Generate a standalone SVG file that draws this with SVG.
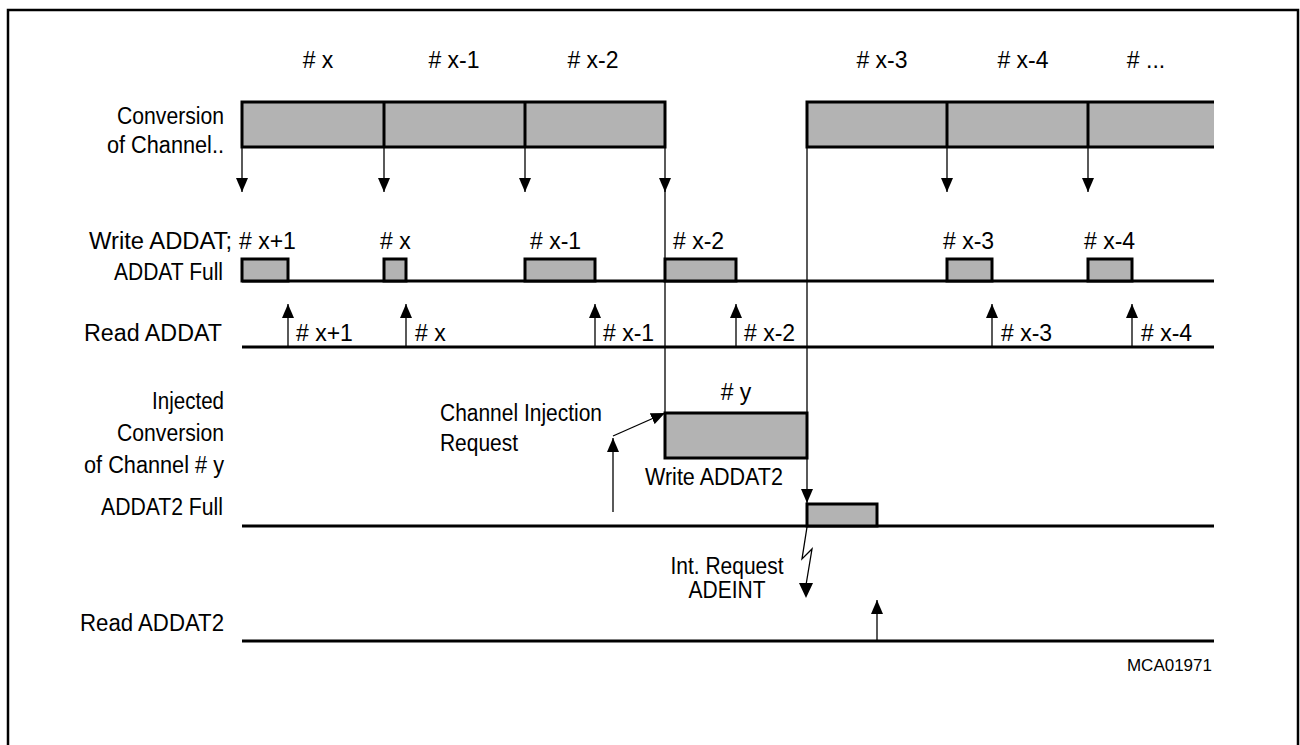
<svg xmlns="http://www.w3.org/2000/svg" width="1300" height="745" viewBox="0 0 1300 745">
<style>
text{font-family:"Liberation Sans",Arial,sans-serif;font-size:23px;fill:#000}
.r{text-anchor:end}
.m{text-anchor:middle}
.sig{stroke:#000;stroke-width:3;fill:none}
.box{stroke:#000;stroke-width:3;fill:#b3b3b3}
.thin{stroke:#000;stroke-width:1.3;fill:none}
.head{fill:#000;stroke:none}
</style>
<defs>
<marker id="ah" viewBox="0 0 14 12" refX="14" refY="6" markerWidth="14" markerHeight="12" markerUnits="userSpaceOnUse" orient="auto">
<path d="M0,0 L14,6 L0,12 z" fill="#000"/>
</marker>
</defs>
<rect width="1300" height="745" fill="#fff"/>
<path d="M8,745 V10 H1298 V745" fill="none" stroke="#000" stroke-width="2.5"/>

<g id="labels-left">
<text class="r" x="224" y="124" textLength="107" lengthAdjust="spacingAndGlyphs">Conversion</text>
<text class="r" x="224" y="153" textLength="117" lengthAdjust="spacingAndGlyphs">of Channel..</text>
<text class="r" x="232" y="249" textLength="143" lengthAdjust="spacingAndGlyphs">Write ADDAT;</text>
<text class="r" x="223" y="280" textLength="109" lengthAdjust="spacingAndGlyphs">ADDAT Full</text>
<text class="r" x="222" y="341" textLength="138" lengthAdjust="spacingAndGlyphs">Read ADDAT</text>
<text class="r" x="224" y="409" textLength="72" lengthAdjust="spacingAndGlyphs">Injected</text>
<text class="r" x="224" y="441" textLength="107" lengthAdjust="spacingAndGlyphs">Conversion</text>
<text class="r" x="224" y="473" textLength="140" lengthAdjust="spacingAndGlyphs">of Channel # y</text>
<text class="r" x="223" y="515" textLength="122" lengthAdjust="spacingAndGlyphs">ADDAT2 Full</text>
<text class="r" x="224" y="631" textLength="144" lengthAdjust="spacingAndGlyphs">Read ADDAT2</text>
</g>

<g id="conversion-row">
<rect class="box" x="242" y="102" width="423" height="45"/>
<line class="sig" x1="384" y1="102" x2="384" y2="147"/>
<line class="sig" x1="525" y1="102" x2="525" y2="147"/>
<path class="box" d="M1214,102 H807 V147 H1214"/>
<line class="sig" x1="947" y1="102" x2="947" y2="147"/>
<line class="sig" x1="1088" y1="102" x2="1088" y2="147"/>
<text class="m" x="318" y="68"># x</text>
<text class="m" x="454" y="68"># x-1</text>
<text class="m" x="593" y="68"># x-2</text>
<text class="m" x="882" y="68"># x-3</text>
<text class="m" x="1023" y="68"># x-4</text>
<text class="m" x="1146" y="68"># ...</text>
</g>

<g id="addat-full-row">
<line class="sig" x1="242" y1="281" x2="1214" y2="281"/>
<rect class="box" x="242" y="259" width="46" height="22"/>
<rect class="box" x="384" y="259" width="22" height="22"/>
<rect class="box" x="525" y="259" width="70" height="22"/>
<rect class="box" x="665" y="259" width="71" height="22"/>
<rect class="box" x="947" y="259" width="45" height="22"/>
<rect class="box" x="1088" y="259" width="44" height="22"/>
<text x="239" y="249"># x+1</text>
<text x="380" y="249"># x</text>
<text x="530" y="249"># x-1</text>
<text x="673" y="249"># x-2</text>
<text x="943" y="249"># x-3</text>
<text x="1084" y="249"># x-4</text>
</g>

<g id="read-addat-row">
<line class="sig" x1="242" y1="347" x2="1214" y2="347"/>
<text x="296" y="341"># x+1</text>
<text x="415" y="341"># x</text>
<text x="603" y="341"># x-1</text>
<text x="744" y="341"># x-2</text>
<text x="1001" y="341"># x-3</text>
<text x="1141" y="341"># x-4</text>
</g>

<g id="injected-row">
<rect class="box" x="665" y="413" width="142" height="45"/>
<text class="m" x="736" y="400"># y</text>
<text x="440" y="421" textLength="162" lengthAdjust="spacingAndGlyphs">Channel Injection</text>
<text x="440" y="451" textLength="78" lengthAdjust="spacingAndGlyphs">Request</text>
<text x="645" y="485" textLength="138" lengthAdjust="spacingAndGlyphs">Write ADDAT2</text>
</g>

<g id="addat2-full-row">
<line class="sig" x1="242" y1="526" x2="1214" y2="526"/>
<rect class="box" x="807" y="504" width="70" height="22"/>
<text class="m" x="727" y="574" textLength="113" lengthAdjust="spacingAndGlyphs">Int. Request</text>
<text class="m" x="727" y="598" textLength="77" lengthAdjust="spacingAndGlyphs">ADEINT</text>
</g>

<g id="read-addat2-row">
<line class="sig" x1="242" y1="641" x2="1214" y2="641"/>
</g>

<g id="connectors">
<line class="thin" x1="242" y1="147" x2="242" y2="192" marker-end="url(#ah)"/>
<line class="thin" x1="384" y1="147" x2="384" y2="192" marker-end="url(#ah)"/>
<line class="thin" x1="525" y1="147" x2="525" y2="192" marker-end="url(#ah)"/>
<line class="thin" x1="665" y1="147" x2="665" y2="192" marker-end="url(#ah)"/>
<line class="thin" x1="665" y1="190" x2="665" y2="413"/>
<line class="thin" x1="947" y1="147" x2="947" y2="192" marker-end="url(#ah)"/>
<line class="thin" x1="1088" y1="147" x2="1088" y2="192" marker-end="url(#ah)"/>
<line class="thin" x1="807" y1="147" x2="807" y2="503" marker-end="url(#ah)"/>
<line class="thin" x1="288" y1="347" x2="288" y2="304" marker-end="url(#ah)"/>
<line class="thin" x1="406" y1="347" x2="406" y2="304" marker-end="url(#ah)"/>
<line class="thin" x1="595" y1="347" x2="595" y2="304" marker-end="url(#ah)"/>
<line class="thin" x1="736" y1="347" x2="736" y2="304" marker-end="url(#ah)"/>
<line class="thin" x1="992" y1="347" x2="992" y2="304" marker-end="url(#ah)"/>
<line class="thin" x1="1132" y1="347" x2="1132" y2="304" marker-end="url(#ah)"/>
<line class="thin" x1="613" y1="512" x2="613" y2="438" marker-end="url(#ah)"/>
<line class="thin" x1="613" y1="436" x2="665" y2="413" marker-end="url(#ah)"/>
<polyline class="thin" points="807,527 802,559 812,549 806,585"/>
<polygon class="head" points="799,583 813,583 806,598"/>
<line class="thin" x1="877" y1="641" x2="877" y2="600" marker-end="url(#ah)"/>
</g>

<text x="1212" y="671" text-anchor="end" style="font-size:17px">MCA01971</text>
</svg>
